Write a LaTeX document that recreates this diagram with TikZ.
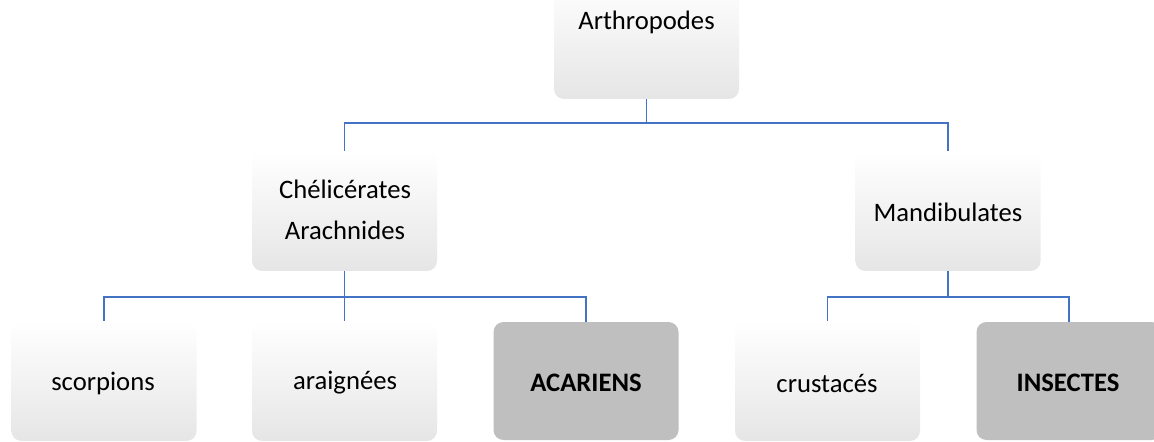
\documentclass[tikz,border=0pt]{standalone}
\usepackage{fontspec}
\setmainfont{Carlito}
\begin{document}
\begin{tikzpicture}[x=0.75pt,y=-0.75pt,
  every node/.style={inner sep=0pt, outer sep=0pt},
  softbox/.style={rectangle, rounded corners=7.5pt, minimum width=138.75pt, minimum height=90pt,
    top color=white, middle color=white, bottom color=black!10, shading angle=0},
  greybox/.style={rectangle, rounded corners=7.5pt, minimum width=138.75pt, minimum height=88.5pt,
    fill=black!25},
  lbl/.style={font=\fontsize{20}{24}\selectfont, text=black},
  blbl/.style={font=\fontsize{20}{24}\selectfont\bfseries, text=black},
  conn/.style={draw=blue!55!black!70!cyan, line width=1.1pt}
]
\definecolor{linkblue}{HTML}{4472C4}
\tikzset{conn/.style={draw=linkblue, line width=0.9pt}}
\useasboundingbox (0,0) rectangle (1154,442);

% boxes
\node[softbox] (arth) at (646.5,39) {};
\node[softbox] (chel) at (344.5,211) {};
\node[softbox] (mand) at (948,211) {};
\node[softbox] (scor) at (104,381) {};
\node[softbox] (arai) at (344.5,381) {};
\node[greybox] (acar) at (586,381) {};
\node[softbox] (crus) at (827.5,381) {};
\node[greybox] (inse) at (1069,381) {};

% texts
\node[lbl] (tarth) at (646.5,22) {Arthropodes};
\node[lbl] (tchel1) at (345,189) {Chélicérates};
\node[lbl] (tchel2) at (345,230) {Arachnides};
\node[lbl] (tmand) at (948,212) {Mandibulates};
\node[lbl] (tscor) at (103,383) {scorpions};
\node[lbl] (tarai) at (345,383) {araignées};
\node[blbl] (tacar) at (586,383) {ACARIENS};
\node[lbl] (tcrus) at (827,383) {crustacés};
\node[blbl] (tinse) at (1068,383) {INSECTES};

% connectors
\coordinate (j1) at (646.5,123);
\coordinate (j2) at (344.5,297);
\coordinate (j3) at (948,297);
\draw[conn] (arth.south) -- (j1);
\draw[conn] (j1) -| (chel.north);
\draw[conn] (j1) -| (mand.north);
\draw[conn] (chel.south) -- (j2);
\draw[conn] (j2) -| (scor.north);
\draw[conn] (j2) -- (arai.north);
\draw[conn] (j2) -| (acar.north);
\draw[conn] (mand.south) -- (j3);
\draw[conn] (j3) -| (crus.north);
\draw[conn] (j3) -| (inse.north);
\end{tikzpicture}
\end{document}
